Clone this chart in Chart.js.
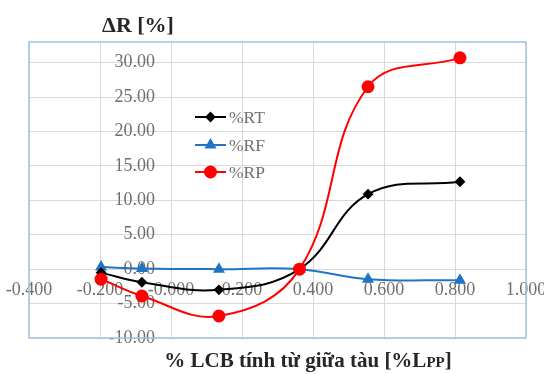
<!DOCTYPE html>
<html><head><meta charset="utf-8">
<script src="https://cdn.jsdelivr.net/npm/chart.js@4/dist/chart.umd.min.js"></script>
<style>html,body{margin:0;padding:0;background:#fff}#wrap{width:544px;height:374px}</style>
</head><body><div id="wrap"><canvas id="c" width="544" height="374"></canvas></div>
<script>
const xValues = [-0.197, -0.082, 0.135, 0.362, 0.555, 0.814];
const rtValues = [-0.5, -1.9, -3.0, 0.0, 10.9, 12.7];
const rfValues = [0.3, 0.1, 0.0, 0.0, -1.45, -1.6];
const rpValues = [-1.45, -3.9, -6.8, 0.0, 26.5, 30.7];
const yTicks = [-10, -5, 0, 5, 10, 15, 20, 25, 30];
const seriesNames = ['%RT', '%RF', '%RP'];
const chartTitle = 'ΔR [%]';
const xTitleMain = '% LCB tính từ giữa tàu [%L';
const xTitleSub = 'PP';
const xTitleEnd = ']';

const colors = ['#000000', '#1f74c4', '#ff0000'];
const styles = ['rectRot', 'triangle', 'circle'];
const radii = [4, 5, 5.5];
const series = [rtValues, rfValues, rpValues];
const serif = '"Liberation Serif", "Times New Roman", serif';

const datasets = series.map((vals, i) => ({
  label: seriesNames[i],
  data: xValues.map((x, j) => ({x: x, y: vals[j]})),
  borderColor: colors[i], backgroundColor: colors[i],
  pointStyle: styles[i], pointRadius: radii[i], pointHoverRadius: radii[i],
  borderWidth: 2, tension: 0.4, order: [2, 3, 1][i]
}));

const deco = {
  id: 'deco',
  afterDraw(chart) {
    const ctx = chart.ctx, a = chart.chartArea;
    ctx.save();
    ctx.strokeStyle = '#9dc3e6'; ctx.lineWidth = 1.5;
    ctx.strokeRect(a.left, a.top, a.right - a.left, a.bottom - a.top);
    // title
    ctx.fillStyle = '#262626';
    ctx.font = 'bold 22px ' + serif;
    ctx.textAlign = 'center'; ctx.textBaseline = 'alphabetic';
    ctx.fillText(chartTitle, 138, 32);
    // x title
    ctx.textAlign = 'left';
    const f1 = 'bold 21px ' + serif, f2 = 'bold 15px ' + serif;
    ctx.font = f1; const w1 = ctx.measureText(xTitleMain).width;
    ctx.font = f2; const w2 = ctx.measureText(xTitleSub).width;
    ctx.font = f1; const w3 = ctx.measureText(xTitleEnd).width;
    let x0 = 308 - (w1 + w2 + w3) / 2;
    ctx.font = f1; ctx.fillText(xTitleMain, x0, 367);
    ctx.font = f2; ctx.fillText(xTitleSub, x0 + w1, 367);
    ctx.font = f1; ctx.fillText(xTitleEnd, x0 + w1 + w2, 367);
    // legend
    const ly = [117, 145, 172];
    ctx.font = '17.5px ' + serif; ctx.textBaseline = 'middle';
    for (let i = 0; i < 3; i++) {
      ctx.strokeStyle = colors[i]; ctx.lineWidth = 2;
      ctx.beginPath(); ctx.moveTo(195, ly[i]); ctx.lineTo(226, ly[i]); ctx.stroke();
      ctx.fillStyle = colors[i];
      Chart.helpers.drawPoint(ctx, {pointStyle: styles[i], radius: radii[i], borderWidth: 1}, 210.5, ly[i]);
      ctx.fillStyle = '#6f6f6f';
      ctx.fillText(seriesNames[i], 229, ly[i] + 1);
    }
    ctx.restore();
  }
};

const noPad = s => { s.paddingLeft = 0; s.paddingRight = 0; s.paddingTop = 0; s.paddingBottom = 0; };

new Chart(document.getElementById('c'), {
  type: 'line',
  data: {datasets},
  options: {
    responsive: false, animation: false,
    layout: {padding: {left: 29, right: 18, top: 42, bottom: 36}},
    plugins: {legend: {display: false}, tooltip: {enabled: false}},
    scales: {
      x: {
        type: 'linear', min: -0.4, max: 1.0, position: {y: 0},
        afterFit: noPad,
        grid: {color: '#d9d9d9', drawTicks: false},
        border: {display: false},
        ticks: {stepSize: 0.2, padding: 10, color: '#6f6f6f', font: {family: serif, size: 18},
          maxRotation: 0, autoSkip: false, callback: v => (+v).toFixed(3)}
      },
      y: {
        type: 'linear', min: -10, max: 33, position: {x: -0.045},
        afterFit: noPad,
        grid: {color: '#d9d9d9', drawTicks: false},
        border: {display: false},
        afterBuildTicks: s => { s.ticks = yTicks.map(v => ({value: v})); },
        ticks: {color: '#6f6f6f', font: {family: serif, size: 18},
          callback: v => (+v).toFixed(2)}
      }
    }
  },
  plugins: [deco]
});
</script></body></html>
